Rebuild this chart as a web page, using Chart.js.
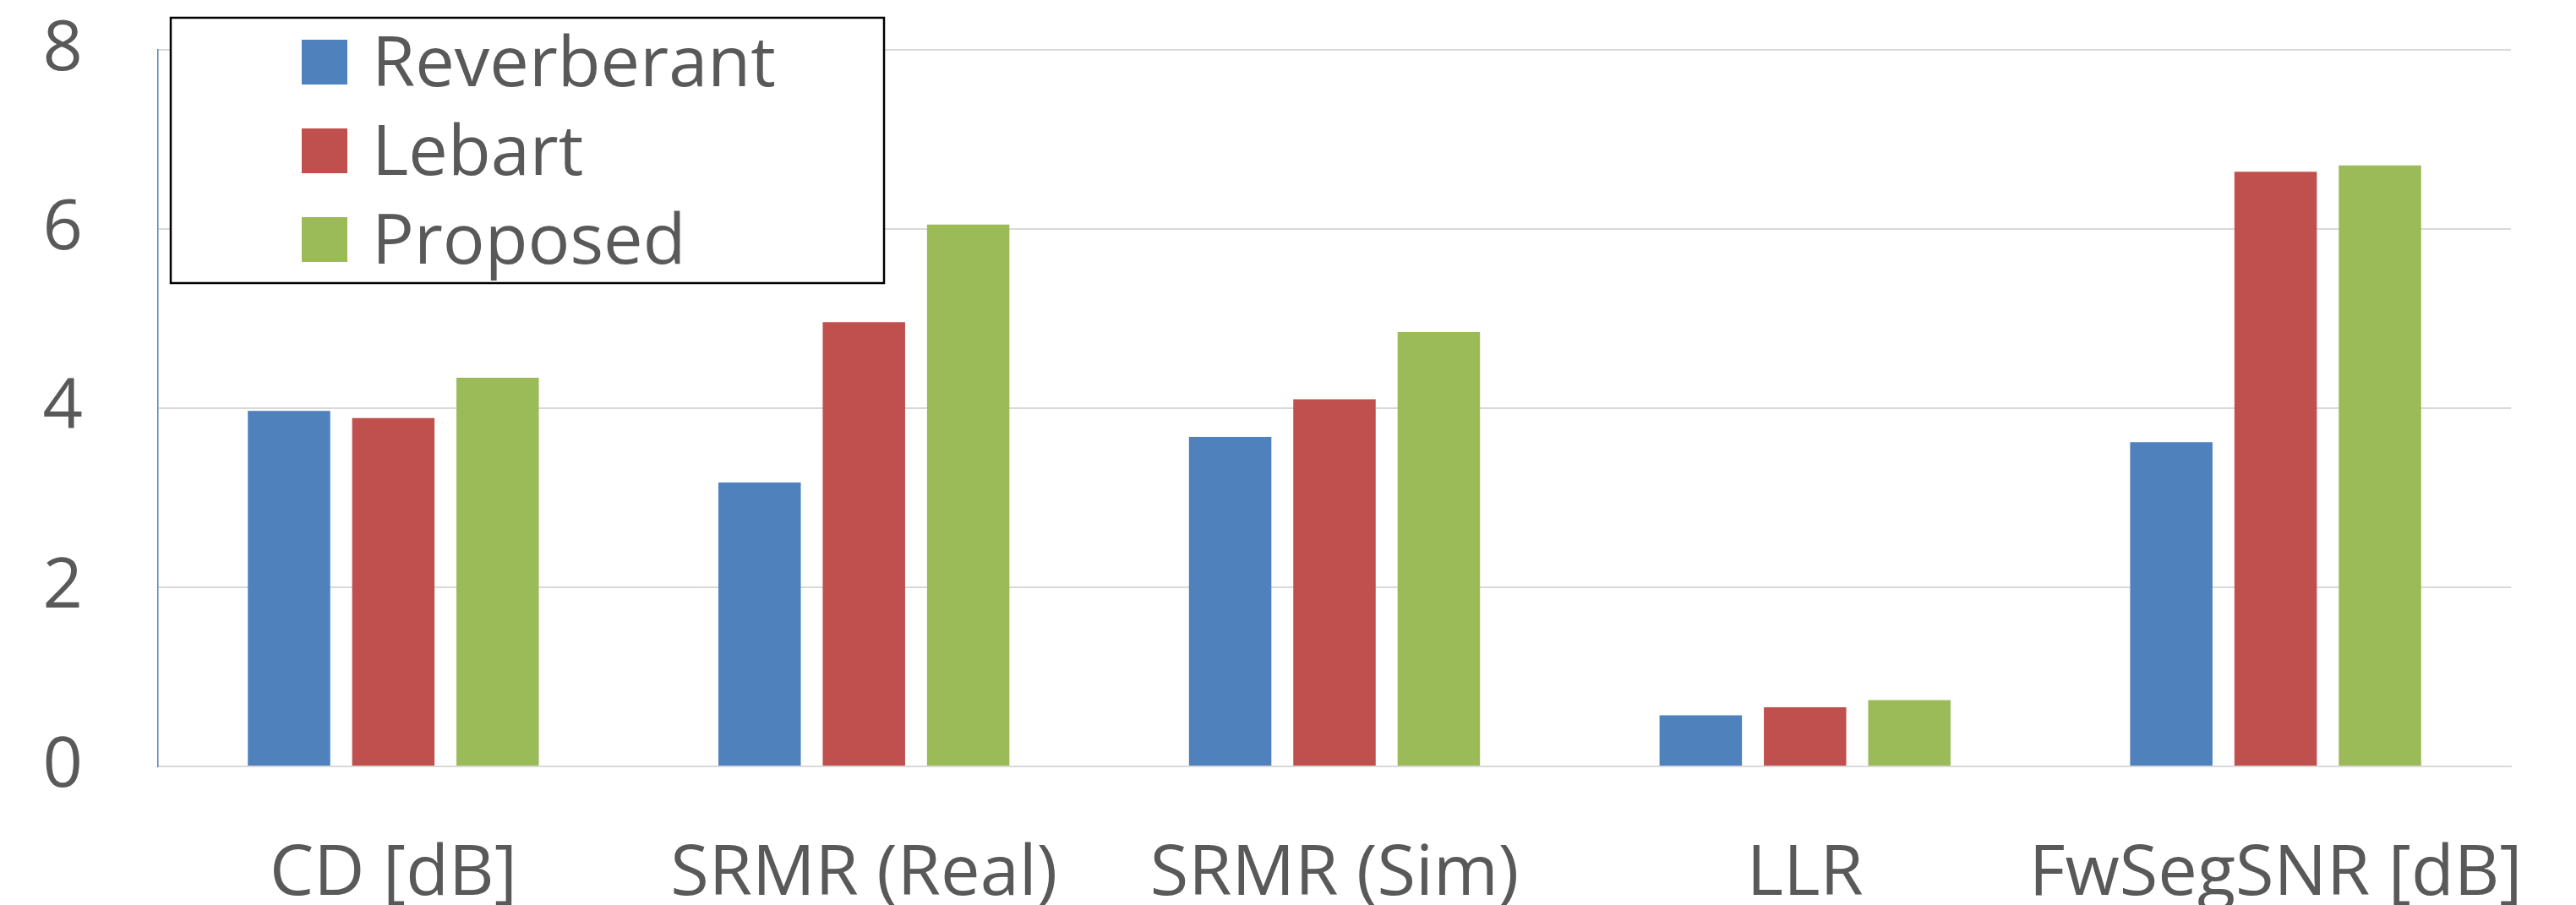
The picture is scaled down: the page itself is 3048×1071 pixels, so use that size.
<!DOCTYPE html>
<html>
<head>
<meta charset="utf-8">
<script src="https://cdn.jsdelivr.net/npm/chart.js@4.4.1/dist/chart.umd.min.js"></script>
<style>
  html, body { margin: 0; padding: 0; background: #ffffff; overflow: hidden; }
  #wrap { width: 3048px; height: 1071px; }
</style>
</head>
<body>
<div id="wrap"><canvas id="c" width="3048" height="1071"></canvas></div>
<script>
// Dereverberation metrics per method
const categories = ['CD [dB]', 'SRMR (Real)', 'SRMR (Sim)', 'LLR', 'FwSegSNR [dB]'];
const reverberant = [3.97, 3.17, 3.68, 0.57, 3.62];
const lebart      = [3.89, 4.96, 4.10, 0.66, 6.64];
const proposed    = [4.34, 6.05, 4.85, 0.74, 6.71];
const seriesNames = ['Reverberant', 'Lebart', 'Proposed'];
const yTicks = [0, 2, 4, 6, 8];

const COLORS = ['#4F81BD', '#C0504D', '#9BBB59'];
const TEXT = '#595959';
const FONT_FAMILY = '"Open Sans", sans-serif';
const FONT_SIZE = 83;

// Boxed legend drawn inside the plot area, top-left
const boxedLegend = {
  id: 'boxedLegend',
  afterDraw(chart) {
    const ctx = chart.ctx;
    const box = { x: 202, y: 21, w: 844, h: 314 };
    ctx.save();
    ctx.fillStyle = '#ffffff';
    ctx.fillRect(box.x, box.y, box.w, box.h);
    ctx.strokeStyle = '#000000';
    ctx.lineWidth = 2.5;
    ctx.strokeRect(box.x, box.y, box.w, box.h);
    ctx.font = FONT_SIZE + 'px ' + FONT_FAMILY;
    ctx.textBaseline = 'alphabetic';
    ctx.textAlign = 'left';
    chart.data.datasets.forEach((ds, i) => {
      const top = 47 + i * 105;
      ctx.fillStyle = ds.backgroundColor;
      ctx.fillRect(357, top, 54, 53);
      ctx.fillStyle = TEXT;
      ctx.fillText(ds.label, 440, top + 55);
    });
    ctx.restore();
  }
};

new Chart(document.getElementById('c'), {
  type: 'bar',
  data: {
    labels: categories,
    datasets: [
      { label: seriesNames[0], data: reverberant, backgroundColor: COLORS[0] },
      { label: seriesNames[1], data: lebart,      backgroundColor: COLORS[1] },
      { label: seriesNames[2], data: proposed,    backgroundColor: COLORS[2] }
    ]
  },
  options: {
    responsive: false,
    maintainAspectRatio: false,
    devicePixelRatio: 1,
    animation: false,
    layout: { padding: { top: 59, right: 77, left: 0, bottom: 0 } },
    datasets: {
      bar: { categoryPercentage: 0.665, barPercentage: 0.79, borderWidth: 0 }
    },
    plugins: {
      legend: { display: false },
      tooltip: { enabled: false },
      title: { display: false }
    },
    scales: {
      x: {
        grid: { display: false, drawTicks: false },
        border: { display: true, color: '#D9D9D9', width: 2 },
        ticks: {
          color: TEXT,
          font: { family: FONT_FAMILY, size: FONT_SIZE },
          padding: 79,
          maxRotation: 0,
          autoSkip: false
        },
        afterFit(scale) {
          scale.height = 164;
          scale.paddingLeft = 0;
          scale.paddingRight = 0;
        }
      },
      y: {
        min: 0,
        max: 8,
        afterBuildTicks(scale) { scale.ticks = yTicks.map(v => ({ value: v })); },
        grid: { color: '#D9D9D9', lineWidth: 2, drawTicks: false },
        border: { display: true, color: '#4F81BD', width: 1.5 },
        ticks: {
          color: TEXT,
          font: { family: FONT_FAMILY, size: FONT_SIZE },
          padding: 89
        },
        afterFit(scale) {
          scale.width = 187;
          scale.paddingTop = 0;
          scale.paddingBottom = 0;
        }
      }
    }
  },
  plugins: [boxedLegend]
});
</script>
</body>
</html>
